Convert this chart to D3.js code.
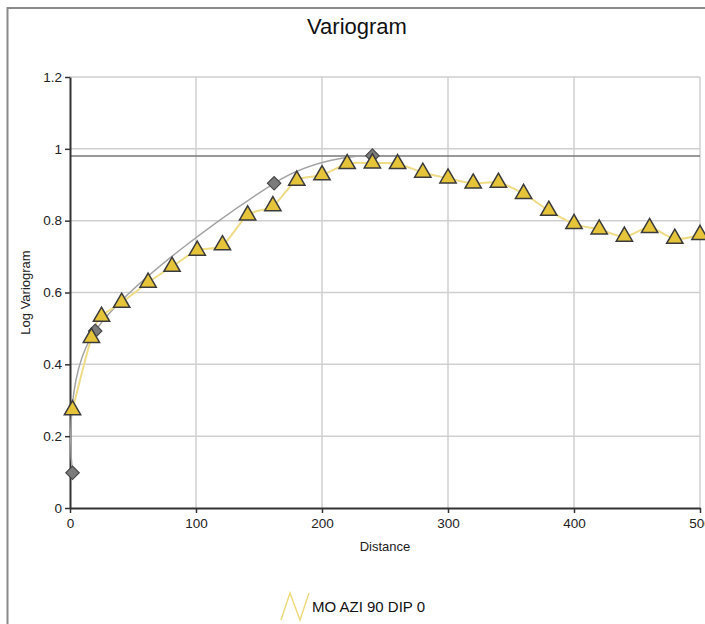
<!DOCTYPE html>
<html>
<head>
<meta charset="utf-8">
<script src="https://cdn.jsdelivr.net/npm/d3@7"></script>
<style>
  body { margin: 0; background: #fff; }
  svg { display: block; font-family: "Liberation Sans", Arial, sans-serif; }
</style>
</head>
<body>
<svg id="chart"></svg>
<script>
// experimental variogram points (lag distance, log variogram)
const lagDist = [2, 17, 25, 41, 62, 81, 101, 121, 141, 161, 180, 200, 220, 240, 260, 280, 300, 320, 340, 360, 380, 400, 420, 440, 460, 480, 500];
const lagGamma = [0.273, 0.474, 0.533, 0.572, 0.628, 0.672, 0.717, 0.732, 0.815, 0.841, 0.912, 0.927, 0.958, 0.960, 0.958, 0.934, 0.918, 0.904, 0.906, 0.875, 0.828, 0.791, 0.776, 0.756, 0.780, 0.750, 0.761];

// model structure points
const modelDist = [2, 20, 162, 240];
const modelGamma = [0.098, 0.493, 0.904, 0.981];

const sill = 0.98;

const xTicks = [0, 100, 200, 300, 400, 500];
const yTicks = [0, 0.2, 0.4, 0.6, 0.8, 1, 1.2];
const yTickLabels = ["0", "0.2", "0.4", "0.6", "0.8", "1", "1.2"];

const seriesName = "MO AZI 90 DIP 0";

const W = 705, H = 624;
const plot = { left: 70, right: 700, top: 77, bottom: 508 };

const svg = d3.select("#chart").attr("width", W).attr("height", H);

// outer frame (left + top visible)
svg.append("rect")
  .attr("x", 7.5).attr("y", 8)
  .attr("width", W + 10).attr("height", H + 10)
  .attr("fill", "none")
  .attr("stroke", "#8a8a8a")
  .attr("stroke-width", 2);

const x = d3.scaleLinear().domain([0, 500]).range([plot.left, plot.right]);
const y = d3.scaleLinear().domain([0, 1.2]).range([plot.bottom, plot.top]);

// grid
svg.append("g").selectAll("line")
  .data(xTicks.slice(1))
  .join("line")
  .attr("x1", d => x(d)).attr("x2", d => x(d))
  .attr("y1", plot.top).attr("y2", plot.bottom)
  .attr("stroke", "#cfcfcf").attr("stroke-width", 1.5);

svg.append("g").selectAll("line")
  .data(yTicks.slice(1))
  .join("line")
  .attr("x1", plot.left).attr("x2", plot.right)
  .attr("y1", d => y(d)).attr("y2", d => y(d))
  .attr("stroke", "#cfcfcf").attr("stroke-width", 1.5);

// sill line
svg.append("line")
  .attr("x1", plot.left).attr("x2", plot.right)
  .attr("y1", y(sill)).attr("y2", y(sill))
  .attr("stroke", "#777").attr("stroke-width", 1.5);

// axes
const xAxis = d3.axisBottom(x).tickValues(xTicks).tickSize(5).tickSizeOuter(0).tickPadding(5);
const yAxis = d3.axisLeft(y).tickValues(yTicks).tickSize(5).tickSizeOuter(0).tickPadding(3)
  .tickFormat((d, i) => yTickLabels[i]);

const gx = svg.append("g")
  .attr("transform", `translate(0,${plot.bottom})`)
  .call(xAxis);
const gy = svg.append("g")
  .attr("transform", `translate(${plot.left},0)`)
  .call(yAxis);

[gx, gy].forEach(g => {
  g.select(".domain").attr("stroke", "#333").attr("stroke-width", 2);
  g.selectAll(".tick line").attr("stroke", "#333").attr("stroke-width", 1.5);
  g.selectAll(".tick text").attr("fill", "#222").style("font-size", "13.5px");
});

// model curve
const modelLine = d3.line()
  .x((d, i) => x(modelDist[i]))
  .y(d => y(d))
  .curve(d3.curveCardinal);

svg.append("path")
  .attr("d", modelLine(modelGamma))
  .attr("fill", "none")
  .attr("stroke", "#a3a3a3")
  .attr("stroke-width", 1.5);

// experimental line
const expLine = d3.line()
  .x((d, i) => x(lagDist[i]))
  .y(d => y(d))
  .curve(d3.curveCardinal);

svg.append("path")
  .attr("d", expLine(lagGamma))
  .attr("fill", "none")
  .attr("stroke", "#efdc86")
  .attr("stroke-width", 2);

// diamonds
const diamond = d3.symbol().type(d3.symbolSquare).size(90);
svg.append("g").selectAll("path")
  .data(modelGamma)
  .join("path")
  .attr("d", diamond)
  .attr("transform", (d, i) => `translate(${x(modelDist[i])},${y(d)}) rotate(45)`)
  .attr("fill", "#7b7b7b")
  .attr("stroke", "#4a4a4a")
  .attr("stroke-width", 1.2);

// triangles
const tri = d3.symbol().type(d3.symbolTriangle).size(115);
svg.append("g").selectAll("path")
  .data(lagGamma)
  .join("path")
  .attr("d", tri)
  .attr("transform", (d, i) => `translate(${x(lagDist[i])},${y(d)})`)
  .attr("fill", "#e6c43a")
  .attr("stroke", "#3a3a3a")
  .attr("stroke-width", 1.5);

// titles
svg.append("text")
  .attr("x", 357).attr("y", 34)
  .attr("text-anchor", "middle")
  .style("font-size", "22px")
  .attr("fill", "#111")
  .text("Variogram");

svg.append("text")
  .attr("x", (plot.left + plot.right) / 2).attr("y", 551)
  .attr("text-anchor", "middle")
  .style("font-size", "13px")
  .attr("fill", "#222")
  .text("Distance");

svg.append("text")
  .attr("transform", `translate(30,${(plot.top + plot.bottom) / 2}) rotate(-90)`)
  .attr("text-anchor", "middle")
  .style("font-size", "13px")
  .attr("fill", "#222")
  .text("Log Variogram");

// legend
const legend = svg.append("g").attr("transform", "translate(281,593)");
legend.append("path")
  .attr("d", "M0,27 L9,0 L19,27 L28,0")
  .attr("fill", "none")
  .attr("stroke", "#eedb7e")
  .attr("stroke-width", 1.5);
legend.append("text")
  .attr("x", 31).attr("y", 19)
  .style("font-size", "15px")
  .attr("fill", "#111")
  .text(seriesName);
</script>
</body>
</html>
